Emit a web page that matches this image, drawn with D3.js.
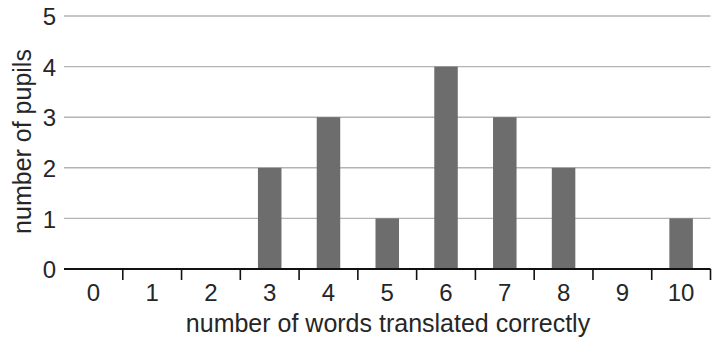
<!DOCTYPE html>
<html><head><meta charset="utf-8">
<script src="https://cdn.jsdelivr.net/npm/d3@7"></script>
<style>body{margin:0;background:#fff}text{font-family:"Liberation Sans",Arial,sans-serif;fill:#262626}</style>
</head><body><svg id="c" width="717" height="338"></svg>
<script>
const categories = ["0","1","2","3","4","5","6","7","8","9","10"];
const pupils = [0,0,0,2,3,1,4,3,2,0,1];
const yTicks = [0,1,2,3,4,5];
const xTitle = "number of words translated correctly";
const yTitle = "number of pupils";

const svg = d3.select("#c");
const m = {left:64, right:717-710.5, top:16, bottom:338-269};
const W = 717, H = 338;
const FS = 24, TS = 25;
const x = d3.scaleBand().domain(categories).range([m.left, W - m.right]).paddingInner(0.6).paddingOuter(0.3);
const y = d3.scaleLinear().domain([0,5]).range([H - m.bottom, m.top]);

// gridlines
svg.append("g").selectAll("line").data(yTicks.filter(d=>d>0)).join("line")
  .attr("x1", m.left).attr("x2", W - m.right)
  .attr("y1", d=>y(d)).attr("y2", d=>y(d))
  .attr("stroke", "#b4b4b4").attr("stroke-width", 1.4);

// y labels
const yAxis = d3.axisLeft(y).tickValues(yTicks).tickSize(0).tickPadding(8).tickFormat(d3.format("d"));
const gy = svg.append("g").attr("transform", `translate(${m.left},0)`).call(yAxis);
gy.select(".domain").remove();
gy.selectAll("text").attr("font-size", FS).attr("x", -8).attr("dy", "0.36em").style("font-family", null).attr("fill", null);

// bars
svg.append("g").selectAll("rect").data(pupils.map((v,i)=>({c:categories[i], v}))).join("rect")
  .attr("x", d=>x(d.c)).attr("width", x.bandwidth())
  .attr("y", d=>y(d.v)).attr("height", d=>y(0)-y(d.v))
  .attr("fill", "#6d6d6d");

// x axis
const step = x.step();
const bounds = categories.map((c,i)=> m.left + step*(i+1));
svg.append("g").selectAll("line").data(bounds).join("line")
  .attr("x1", d=>d).attr("x2", d=>d).attr("y1", y(0)).attr("y2", y(0)+11)
  .attr("stroke", "#111").attr("stroke-width", 1.6);
svg.append("line").attr("x1", m.left).attr("x2", W - m.right).attr("y1", y(0)).attr("y2", y(0))
  .attr("stroke", "#111").attr("stroke-width", 2.2);

svg.append("g").selectAll("text").data(categories).join("text")
  .attr("x", d=>x(d) + x.bandwidth()/2).attr("y", 301)
  .attr("text-anchor", "middle").attr("font-size", FS).text(d=>d);

svg.append("text").attr("x", 388).attr("y", 332)
  .attr("text-anchor", "middle").attr("font-size", TS).text(xTitle);

svg.append("text").attr("transform", `translate(31,141.5)rotate(-90)`)
  .attr("text-anchor", "middle").attr("font-size", TS).text(yTitle);
</script></body></html>
